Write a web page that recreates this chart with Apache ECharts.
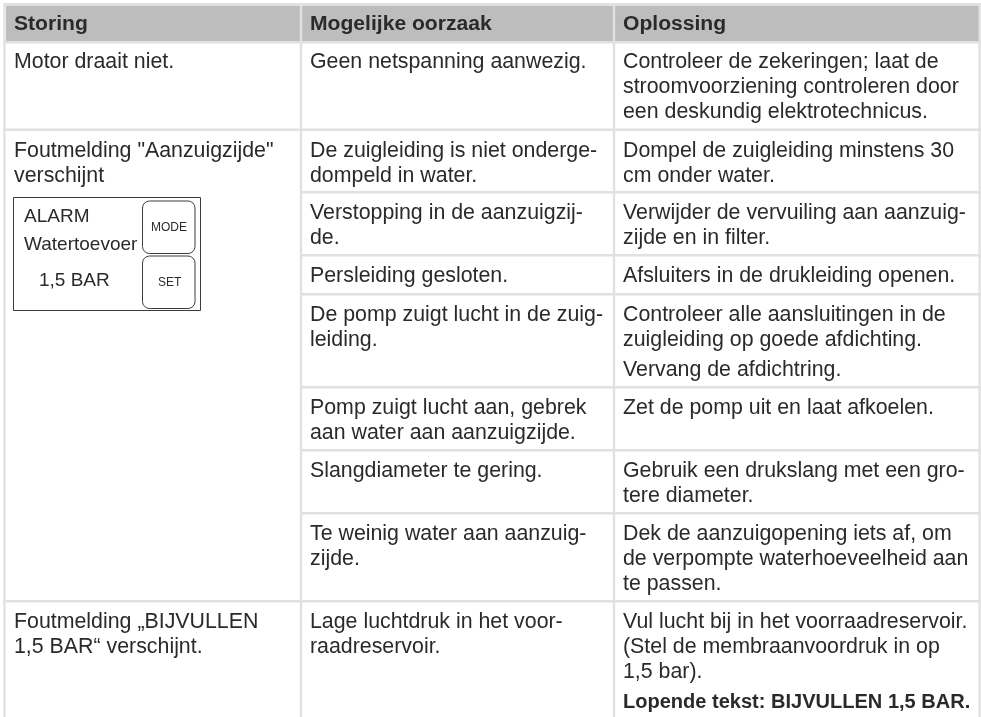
<!DOCTYPE html>
<html><head><meta charset="utf-8">
<style>html,body{margin:0;padding:0;background:#fff}#c{width:981px;height:717px}</style>
<script src="https://cdn.jsdelivr.net/npm/echarts@6/dist/echarts.min.js"></script>
</head><body><div id="c"></div>
<script>
// ---- content ----
const headers = ["Storing", "Mogelijke oorzaak", "Oplossing"];
const storing = [
  ["Motor draait niet."],
  ["Foutmelding \"Aanzuigzijde\"", "verschijnt"],
  ["Foutmelding „BIJVULLEN", "1,5 BAR“ verschijnt."]
];
const oorzaak = [
  ["Geen netspanning aanwezig."],
  ["De zuigleiding is niet onderge-", "dompeld in water."],
  ["Verstopping in de aanzuigzij-", "de."],
  ["Persleiding gesloten."],
  ["De pomp zuigt lucht in de zuig-", "leiding."],
  ["Pomp zuigt lucht aan, gebrek", "aan water aan aanzuigzijde."],
  ["Slangdiameter te gering."],
  ["Te weinig water aan aanzuig-", "zijde."],
  ["Lage luchtdruk in het voor-", "raadreservoir."]
];
const oplossing = [
  ["Controleer de zekeringen; laat de", "stroomvoorziening controleren door", "een deskundig elektrotechnicus."],
  ["Dompel de zuigleiding minstens 30", "cm onder water."],
  ["Verwijder de vervuiling aan aanzuig-", "zijde en in filter."],
  ["Afsluiters in de drukleiding openen."],
  ["Controleer alle aansluitingen in de", "zuigleiding op goede afdichting.", null, "Vervang de afdichtring."],
  ["Zet de pomp uit en laat afkoelen."],
  ["Gebruik een drukslang met een gro-", "tere diameter."],
  ["Dek de aanzuigopening iets af, om", "de verpompte waterhoeveelheid aan", "te passen."],
  ["Vul lucht bij in het voorraadreservoir.", "(Stel de membraanvoordruk in op", "1,5 bar).", null, "Lopende tekst: BIJVULLEN 1,5 BAR."]
];
const boldLines = ["Lopende tekst: BIJVULLEN 1,5 BAR."];
const panelLines = ["ALARM", "Watertoevoer", "1,5 BAR"];
const panelKeys = ["MODE", "SET"];

// ---- layout ----
const W = 981, H = 717;
const LINE = "#e1e1e1", HEAD = "#bdbdbd", INK = "#2b2a29", PANEL = "#3c3c3b";
const FONT = '"Liberation Sans", Arial, sans-serif';
const BODY = 21.35, BOLD = 20.05, HEADSIZE = 21.1;
const RIGHT = 979.6;
const colLines = [4.5, 301, 614, RIGHT];
const colText = [14, 310, 623];
const fullRows = [43, 130.5, 602];
const innerRows = [193, 256, 295, 388, 451, 514];
const storingTops = [42, 130.5, 602];
const rowTops = [42, 130.5, 193, 256, 295, 388, 451, 514, 602];
const LH = 24.8, GAP = 5.5, PAD = 20.5;

const rects = [[6, 5.5, RIGHT, 41.5, HEAD]];
const lines = [];
colLines.forEach(x => lines.push([x, 3, x, H]));
lines.push([3, 4.2, W, 4.2]);
fullRows.forEach(y => lines.push([3, y - 0.8, W, y - 0.8]));
innerRows.forEach(y => lines.push([colLines[1], y - 0.8, W, y - 0.8]));

const texts = [];
function addText(x, y, s, size, weight, color) { texts.push([x, y, s, size, weight, color]); }
headers.forEach((h, i) => addText(colText[i], 24.5, h, HEADSIZE, "bold", INK));
function addCell(col, top, arr) {
  let y = top + PAD;
  arr.forEach(s => {
    if (s === null) { y += GAP; return; }
    const b = boldLines.includes(s);
    addText(colText[col], y, s, b ? BOLD : BODY, b ? "bold" : "normal", INK);
    y += LH;
  });
}
storing.forEach((r, i) => addCell(0, storingTops[i], r));
oorzaak.forEach((r, i) => addCell(1, rowTops[i], r));
oplossing.forEach((r, i) => addCell(2, rowTops[i], r));
const panelPos = [[24, 217], [24, 245], [39, 281]];
panelLines.forEach((s, i) => addText(panelPos[i][0], panelPos[i][1], s, 19, "normal", INK));
const keyPos = [[151, 228], [158, 283]];
panelKeys.forEach((s, i) => addText(keyPos[i][0], keyPos[i][1], s, 12, "normal", INK));

const boxes = [[13.5, 197.5, 200.5, 310.5, 0], [142.5, 201, 195, 253.5, 7], [142.5, 256, 195, 308.5, 7]];

const axisOff = { show: false, type: "value" };
const chart = echarts.init(document.getElementById("c"), null, { renderer: "canvas" });
chart.setOption({
  animation: false,
  backgroundColor: "#ffffff",
  grid: { left: 0, top: 0, right: 0, bottom: 0 },
  xAxis: Object.assign({}, axisOff, { min: 0, max: W }),
  yAxis: Object.assign({}, axisOff, { min: 0, max: H, inverse: true }),
  tooltip: { show: false },
  series: [
    { type: "custom", coordinateSystem: "cartesian2d", clip: false, silent: true, z: 1,
      encode: { x: [0, 2], y: [1, 3] }, data: rects,
      renderItem: (p, api) => {
        const a = api.coord([api.value(0), api.value(1)]), b = api.coord([api.value(2), api.value(3)]);
        return { type: "rect", shape: { x: a[0], y: a[1], width: b[0] - a[0], height: b[1] - a[1] },
                 style: { fill: HEAD } };
      } },
    { type: "custom", coordinateSystem: "cartesian2d", clip: false, silent: true, z: 2,
      encode: { x: [0, 2], y: [1, 3] }, data: lines,
      renderItem: (p, api) => {
        const a = api.coord([api.value(0), api.value(1)]), b = api.coord([api.value(2), api.value(3)]);
        return { type: "line", shape: { x1: a[0], y1: a[1], x2: b[0], y2: b[1] },
                 style: { stroke: LINE, lineWidth: 2.4 } };
      } },
    { type: "custom", coordinateSystem: "cartesian2d", clip: false, silent: true, z: 3,
      encode: { x: [0, 2], y: [1, 3] }, data: boxes,
      renderItem: (p, api) => {
        const a = api.coord([api.value(0), api.value(1)]), b = api.coord([api.value(2), api.value(3)]);
        return { type: "rect", shape: { x: a[0], y: a[1], width: b[0] - a[0], height: b[1] - a[1], r: api.value(4) },
                 style: { fill: "none", stroke: PANEL, lineWidth: 1 } };
      } },
    { type: "custom", coordinateSystem: "cartesian2d", clip: false, silent: true, z: 4,
      encode: { x: 0, y: 1 }, data: texts,
      renderItem: (p, api) => {
        const a = api.coord([api.value(0), api.value(1)]);
        const d = texts[p.dataIndex];
        return { type: "text", x: a[0], y: a[1],
                 style: { text: d[2], fill: d[5], align: "left", verticalAlign: "middle",
                          font: d[4] + " " + d[3] + "px " + FONT } };
      } }
  ]
});
</script></body></html>
